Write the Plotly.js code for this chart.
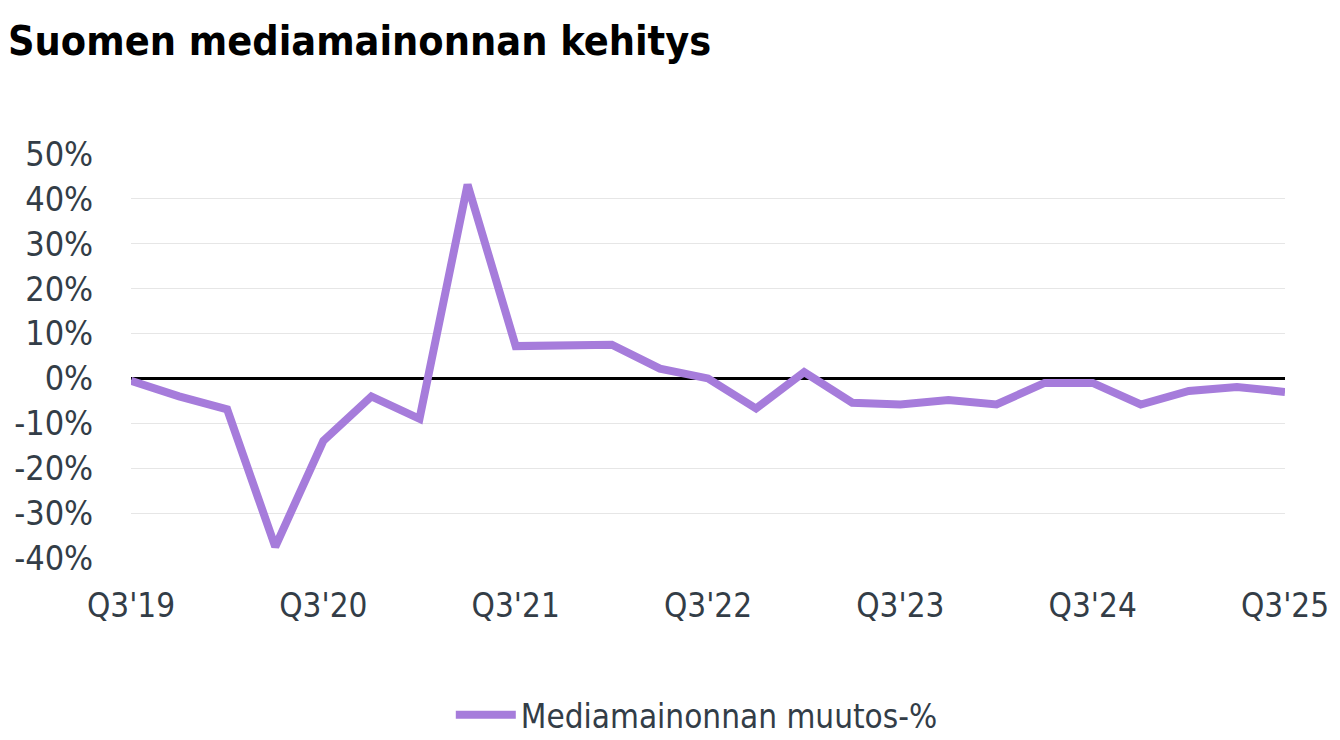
<!DOCTYPE html>
<html>
<head>
<meta charset="utf-8">
<script src="https://cdn.plot.ly/plotly-3.0.1.min.js"></script>
<style>html,body{margin:0;padding:0;background:#fff;}#chart{width:1340px;height:740px;}</style>
</head>
<body>
<div id="chart"></div>
<script>
const quarters = ["Q3'19","Q4'19","Q1'20","Q2'20","Q3'20","Q4'20","Q1'21","Q2'21","Q3'21","Q4'21","Q1'22","Q2'22","Q3'22","Q4'22","Q1'23","Q2'23","Q3'23","Q4'23","Q1'24","Q2'24","Q3'24","Q4'24","Q1'25","Q2'25","Q3'25"];
const muutos = [-0.5, -4.0, -6.9, -37.5, -13.9, -4.0, -9.0, 43.2, 7.2, 7.2, 7.5, 2.2, 0.0, -6.7, 1.4, -5.4, -5.8, -4.8, -5.8, -1.0, -1.0, -5.8, -2.8, -1.9, -3.0];
const seriesName = "Mediamainonnan muutos-%";
const xTicks = ["Q3'19","Q3'20","Q3'21","Q3'22","Q3'23","Q3'24","Q3'25"];
const yTicks = [-40, -30, -20, -10, 0, 10, 20, 30, 40, 50];
const yTickText = yTicks.map(v => v + "%");

const fontFam = "'DejaVu Sans Condensed', 'DejaVu Sans', sans-serif";
const txtColor = "#333d47";

const trace = {
  x: quarters,
  y: muutos,
  type: "scatter",
  mode: "lines",
  name: seriesName,
  line: {color: "#a67cdb", width: 8},
  hoverinfo: "x+y"
};

const layout = {
  width: 1340,
  height: 740,
  paper_bgcolor: "#ffffff",
  plot_bgcolor: "#ffffff",
  margin: {l: 131, r: 55, t: 154, b: 182},
  title: {
    text: "<b>Suomen mediamainonnan kehitys</b>",
    font: {family: "'DejaVu Sans Condensed', sans-serif", size: 41, color: "#000000"},
    x: 0.006, xref: "container", xanchor: "left",
    y: 0.945, yref: "container", yanchor: "middle"
  },
  xaxis: {
    type: "category",
    categoryorder: "array",
    categoryarray: quarters,
    range: [0, quarters.length - 1],
    tickmode: "array",
    tickvals: xTicks,
    ticktext: xTicks,
    ticks: "outside",
    ticklen: 18,
    tickcolor: "rgba(0,0,0,0)",
    showgrid: false,
    showline: false,
    zeroline: false,
    tickfont: {family: fontFam, size: 33, color: txtColor}
  },
  yaxis: {
    range: [-40, 50],
    tickmode: "array",
    tickvals: yTicks,
    ticktext: yTickText,
    ticks: "outside",
    ticklen: 30,
    tickcolor: "rgba(0,0,0,0)",
    showgrid: true,
    gridcolor: "#e6e6e6",
    gridwidth: 1,
    zeroline: true,
    zerolinecolor: "#000000",
    zerolinewidth: 3,
    showline: false,
    tickfont: {family: fontFam, size: 34, color: txtColor}
  },
  showlegend: true,
  legend: {
    orientation: "h",
    x: 0.52, xref: "container", xanchor: "center",
    y: 0.034, yref: "container", yanchor: "middle",
    font: {family: fontFam, size: 33, color: txtColor},
    itemwidth: 60
  },
  hovermode: false
};

Plotly.newPlot("chart", [trace], layout, {displayModeBar: false, staticPlot: true});
</script>
</body>
</html>
